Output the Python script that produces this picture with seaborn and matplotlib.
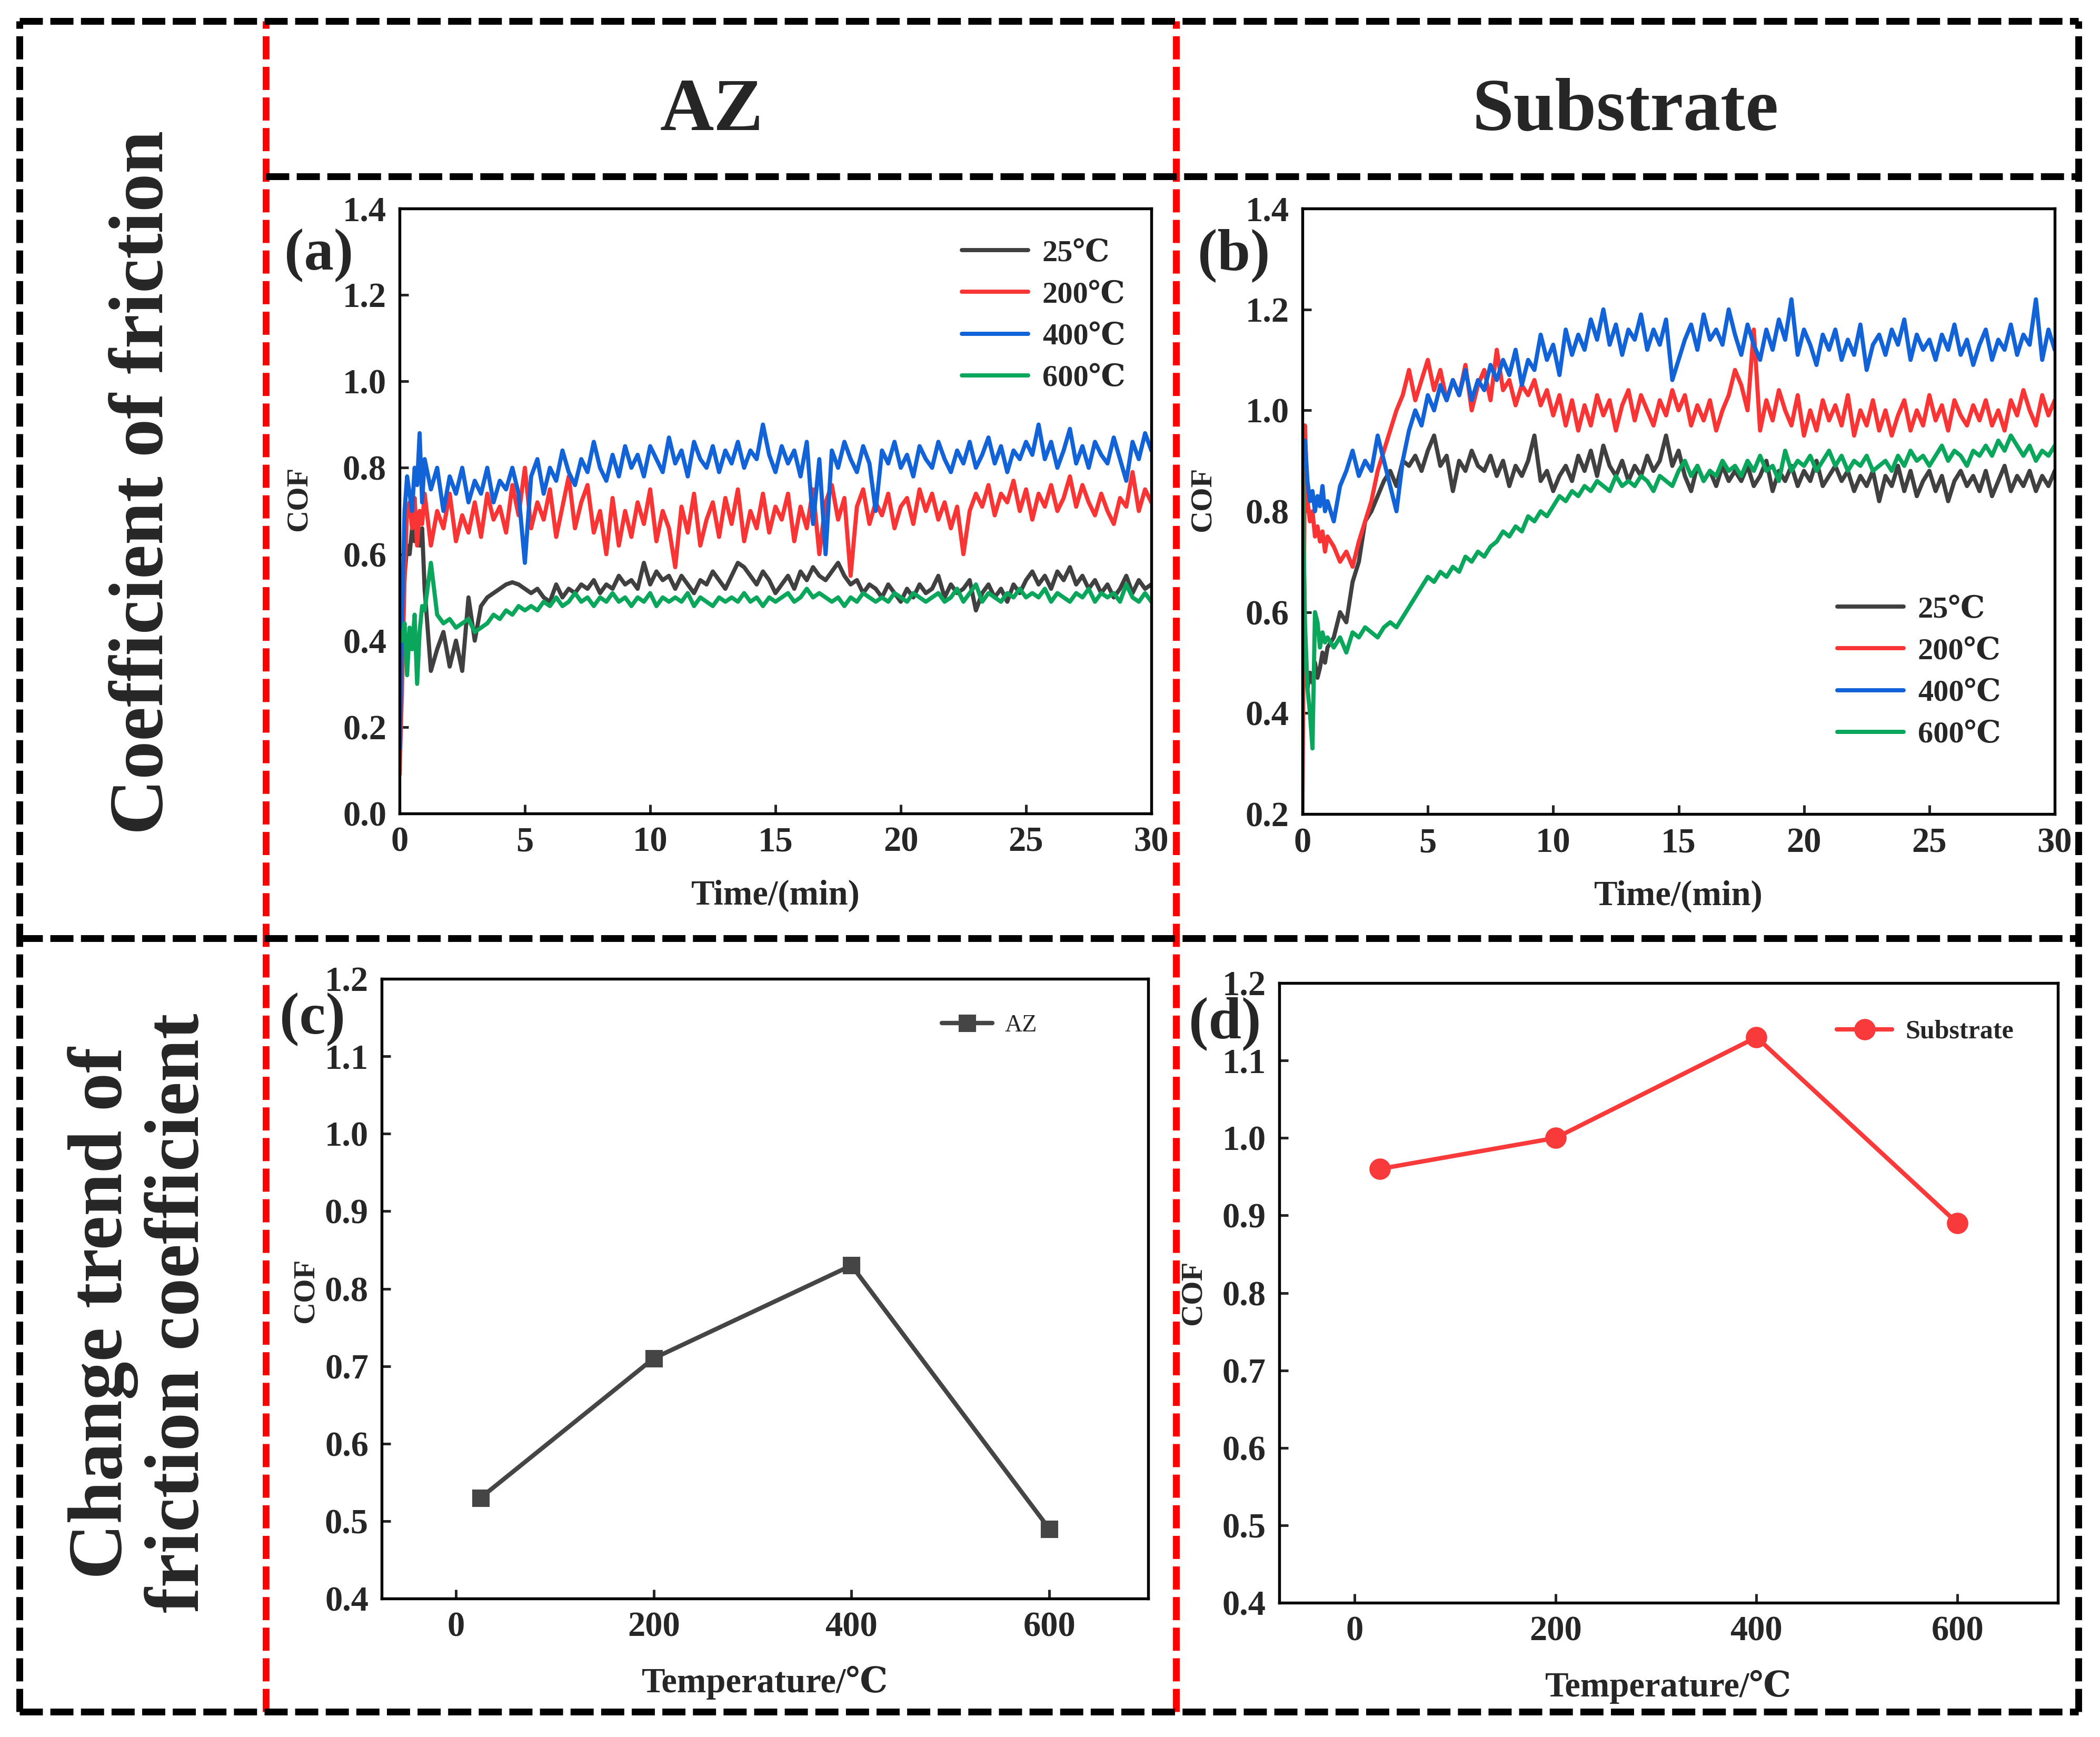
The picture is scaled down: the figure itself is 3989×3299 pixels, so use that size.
import numpy as np
import pandas as pd
import matplotlib
matplotlib.use("Agg")
import matplotlib.pyplot as plt
from matplotlib.lines import Line2D
from matplotlib.ticker import FormatStrFormatter, MultipleLocator
import seaborn as sns

sns.set_style("ticks")
plt.rcParams["font.family"] = ["Liberation Serif", "DejaVu Serif", "Noto Sans CJK SC"]
plt.rcParams["font.weight"] = "bold"
plt.rcParams["axes.labelweight"] = "bold"
plt.rcParams["axes.unicode_minus"] = False

# ---------------- data ----------------
temp_labels = ["25℃", "200℃", "400℃", "600℃"]
line_colors = ["#404040", "#F93434", "#1262D8", "#0AA65C"]

time_early = [0.0, 0.1, 0.2, 0.3, 0.4, 0.5, 0.6, 0.7, 0.8, 0.9, 1.0]
time_main = list(np.round(np.arange(1.25, 30.001, 0.25), 2))
time_min = time_early + time_main

# Panel (a): AZ coating
az_25 = [0.15, 0.40, 0.55, 0.62, 0.60, 0.66, 0.63, 0.68, 0.62, 0.66, 0.52,
         0.33, 0.38, 0.42, 0.34, 0.40, 0.33, 0.50, 0.40,
         0.48, 0.50, 0.51, 0.52, 0.53, 0.535, 0.53, 0.52,
         0.51, 0.52, 0.50, 0.49, 0.53, 0.50, 0.52, 0.51,
         0.53, 0.52, 0.54, 0.51, 0.53, 0.52, 0.55, 0.53,
         0.54, 0.52, 0.58, 0.53, 0.56, 0.54, 0.55, 0.52,
         0.55, 0.53, 0.51, 0.54, 0.53, 0.56, 0.54, 0.52,
         0.55, 0.58, 0.57, 0.55, 0.53, 0.56, 0.54, 0.51,
         0.53, 0.55, 0.52, 0.56, 0.54, 0.57, 0.55, 0.54,
         0.56, 0.58, 0.55, 0.53, 0.54, 0.51, 0.53, 0.52,
         0.50, 0.53, 0.51, 0.49, 0.52, 0.50, 0.53, 0.51,
         0.52, 0.55, 0.50, 0.53, 0.51, 0.52, 0.54, 0.47,
         0.51, 0.53, 0.50, 0.52, 0.49, 0.53, 0.51, 0.54,
         0.56, 0.53, 0.55, 0.52, 0.56, 0.54, 0.57, 0.53,
         0.55, 0.52, 0.54, 0.51, 0.53, 0.50, 0.52, 0.55,
         0.51, 0.54, 0.52, 0.53]
az_200 = [0.09, 0.30, 0.55, 0.70, 0.72, 0.66, 0.73, 0.62, 0.70, 0.67, 0.74,
          0.62, 0.70, 0.66, 0.74, 0.63, 0.69, 0.65, 0.72,
          0.64, 0.74, 0.68, 0.71, 0.65, 0.76, 0.69, 0.80,
          0.66, 0.72, 0.68, 0.75, 0.64, 0.71, 0.78, 0.66,
          0.72, 0.76, 0.65, 0.70, 0.60, 0.73, 0.62, 0.70,
          0.64, 0.72, 0.67, 0.75, 0.63, 0.70, 0.66, 0.57,
          0.71, 0.65, 0.74, 0.62, 0.68, 0.72, 0.64, 0.73,
          0.67, 0.75, 0.63, 0.70, 0.66, 0.74, 0.65, 0.71,
          0.68, 0.74, 0.63, 0.71, 0.66, 0.75, 0.60, 0.72,
          0.76, 0.68, 0.73, 0.55, 0.71, 0.75, 0.67, 0.72,
          0.69, 0.74, 0.66, 0.71, 0.73, 0.67, 0.75, 0.70,
          0.74, 0.68, 0.72, 0.66, 0.71, 0.60, 0.70, 0.74,
          0.71, 0.76, 0.69, 0.74, 0.72, 0.77, 0.70, 0.75,
          0.68, 0.74, 0.71, 0.76, 0.70, 0.73, 0.78, 0.71,
          0.76, 0.72, 0.69, 0.74, 0.70, 0.67, 0.73, 0.71,
          0.79, 0.70, 0.75, 0.72]
az_400 = [0.15, 0.45, 0.70, 0.78, 0.74, 0.70, 0.80, 0.76, 0.88, 0.72, 0.82,
          0.75, 0.80, 0.70, 0.78, 0.74, 0.80, 0.72, 0.77,
          0.74, 0.80, 0.72, 0.77, 0.75, 0.80, 0.74, 0.58,
          0.78, 0.82, 0.74, 0.80, 0.77, 0.84, 0.79, 0.76,
          0.82, 0.79, 0.86, 0.80, 0.77, 0.83, 0.78, 0.85,
          0.80, 0.83, 0.78, 0.85, 0.82, 0.79, 0.87, 0.81,
          0.84, 0.78, 0.86, 0.82, 0.80, 0.85, 0.79, 0.84,
          0.81, 0.86, 0.80, 0.84, 0.82, 0.90, 0.83, 0.79,
          0.85, 0.81, 0.84, 0.78, 0.86, 0.67, 0.82, 0.60,
          0.84, 0.80, 0.86, 0.82, 0.79, 0.85, 0.81, 0.70,
          0.84, 0.81, 0.86, 0.80, 0.83, 0.78, 0.85, 0.82,
          0.80, 0.86, 0.82, 0.79, 0.84, 0.81, 0.86, 0.80,
          0.83, 0.87, 0.81, 0.85, 0.79, 0.84, 0.82, 0.86,
          0.83, 0.90, 0.82, 0.86, 0.80, 0.84, 0.89, 0.81,
          0.85, 0.80, 0.86, 0.83, 0.81, 0.87, 0.82, 0.77,
          0.86, 0.82, 0.88, 0.84]
az_600 = [0.42, 0.40, 0.44, 0.32, 0.43, 0.38, 0.46, 0.30, 0.42, 0.48, 0.47,
          0.58, 0.46, 0.44, 0.45, 0.43, 0.44, 0.45, 0.42,
          0.43, 0.44, 0.46, 0.45, 0.47, 0.46, 0.48, 0.47,
          0.48, 0.47, 0.49, 0.48, 0.50, 0.48, 0.49, 0.51,
          0.49, 0.50, 0.48, 0.50, 0.49, 0.51, 0.49, 0.50,
          0.48, 0.50, 0.49, 0.51, 0.48, 0.50, 0.49, 0.50,
          0.49, 0.51, 0.48, 0.50, 0.49, 0.48, 0.50, 0.49,
          0.50, 0.49, 0.51, 0.49, 0.50, 0.48, 0.50, 0.49,
          0.50, 0.51, 0.49, 0.50, 0.52, 0.50, 0.51, 0.50,
          0.49, 0.50, 0.48, 0.50, 0.49, 0.51, 0.50, 0.49,
          0.50, 0.49, 0.51, 0.50, 0.49, 0.51, 0.50, 0.49,
          0.50, 0.51, 0.49, 0.50, 0.52, 0.49, 0.51, 0.53,
          0.49, 0.51, 0.50, 0.49, 0.51, 0.50, 0.52, 0.50,
          0.51, 0.50, 0.52, 0.49, 0.51, 0.50, 0.49, 0.51,
          0.50, 0.52, 0.49, 0.51, 0.50, 0.51, 0.49, 0.53,
          0.50, 0.49, 0.51, 0.49]

# Panel (b): Substrate
sub_25 = [0.90, 0.55, 0.45, 0.48, 0.46, 0.50, 0.47, 0.49, 0.52, 0.50, 0.53,
          0.55, 0.60, 0.58, 0.66, 0.70, 0.78, 0.80, 0.83,
          0.86, 0.88, 0.85, 0.90, 0.89, 0.91, 0.88, 0.92,
          0.95, 0.89, 0.91, 0.84, 0.90, 0.88, 0.92, 0.89,
          0.88, 0.91, 0.87, 0.90, 0.85, 0.89, 0.87, 0.90,
          0.95, 0.86, 0.88, 0.84, 0.87, 0.89, 0.86, 0.91,
          0.88, 0.92, 0.87, 0.93, 0.89, 0.87, 0.90, 0.86,
          0.89, 0.87, 0.91, 0.88, 0.90, 0.95, 0.89, 0.92,
          0.87, 0.84, 0.89, 0.86, 0.88, 0.85, 0.89, 0.86,
          0.88, 0.86, 0.89, 0.85, 0.87, 0.90, 0.84, 0.88,
          0.86, 0.89, 0.85, 0.88, 0.86, 0.90, 0.85, 0.87,
          0.89, 0.86, 0.88, 0.84, 0.87, 0.85, 0.88, 0.82,
          0.87, 0.85, 0.89, 0.84, 0.88, 0.83, 0.86, 0.88,
          0.84, 0.87, 0.82, 0.86, 0.88, 0.85, 0.87, 0.84,
          0.88, 0.83, 0.86, 0.89, 0.84, 0.87, 0.85, 0.88,
          0.84, 0.87, 0.85, 0.88]
sub_200 = [0.20, 0.97, 0.82, 0.78, 0.80, 0.75, 0.77, 0.74, 0.76, 0.72, 0.75,
           0.73, 0.70, 0.72, 0.69, 0.74, 0.78, 0.82, 0.88,
           0.92, 0.96, 1.00, 1.03, 1.08, 1.02, 1.06, 1.10,
           1.04, 1.08, 1.02, 1.06, 1.03, 1.09, 1.00, 1.05,
           1.08, 1.02, 1.12, 1.04, 1.06, 1.01, 1.05, 1.03,
           1.06, 1.01, 1.04, 0.99, 1.03, 0.97, 1.02, 0.96,
           1.01, 0.97, 1.03, 0.99, 1.02, 0.96, 1.01, 1.04,
           0.98, 1.03, 1.00, 0.97, 1.02, 0.99, 1.04, 1.00,
           1.03, 0.97, 1.01, 0.98, 1.02, 0.96, 1.00, 1.03,
           1.08, 1.05, 1.00, 1.16, 0.96, 1.02, 0.98, 1.04,
           1.00, 0.97, 1.03, 0.95, 1.00, 0.96, 1.02, 0.98,
           1.01, 0.97, 1.03, 0.95, 1.00, 0.97, 1.02, 0.96,
           1.00, 0.95, 0.99, 1.02, 0.96, 1.00, 0.97, 1.03,
           0.98, 1.01, 0.96, 1.02, 0.99, 0.97, 1.01, 0.98,
           1.02, 0.97, 1.00, 0.96, 1.02, 0.99, 1.04, 1.00,
           0.97, 1.03, 0.99, 1.02]
sub_400 = [0.90, 0.94, 0.86, 0.82, 0.84, 0.80, 0.83, 0.81, 0.85, 0.80, 0.82,
           0.78, 0.85, 0.88, 0.92, 0.87, 0.90, 0.88, 0.95,
           0.90, 0.85, 0.80, 0.90, 0.96, 1.00, 0.97, 1.03,
           1.00, 1.05, 1.02, 1.06, 1.03, 1.08, 1.02, 1.06,
           1.04, 1.09, 1.06, 1.10, 1.07, 1.12, 1.05, 1.10,
           1.08, 1.15, 1.10, 1.13, 1.07, 1.16, 1.11, 1.15,
           1.12, 1.18, 1.14, 1.20, 1.13, 1.17, 1.11, 1.16,
           1.14, 1.19, 1.12, 1.16, 1.13, 1.18, 1.06, 1.10,
           1.14, 1.17, 1.12, 1.19, 1.14, 1.16, 1.13, 1.20,
           1.15, 1.11, 1.17, 1.13, 1.10, 1.16, 1.12, 1.18,
           1.14, 1.22, 1.11, 1.16, 1.13, 1.09, 1.15, 1.12,
           1.16, 1.10, 1.14, 1.11, 1.17, 1.08, 1.13, 1.15,
           1.11, 1.16, 1.13, 1.18, 1.10, 1.15, 1.12, 1.14,
           1.10, 1.15, 1.12, 1.17, 1.11, 1.14, 1.09, 1.13,
           1.16, 1.10, 1.14, 1.12, 1.17, 1.11, 1.15, 1.13,
           1.22, 1.10, 1.16, 1.12]
sub_600 = [0.90, 0.58, 0.45, 0.40, 0.33, 0.60, 0.58, 0.53, 0.56, 0.54, 0.55,
           0.53, 0.55, 0.52, 0.56, 0.55, 0.57, 0.56, 0.55,
           0.57, 0.58, 0.57, 0.59, 0.61, 0.63, 0.65, 0.67,
           0.66, 0.68, 0.67, 0.69, 0.68, 0.71, 0.70, 0.72,
           0.71, 0.73, 0.74, 0.76, 0.75, 0.77, 0.76, 0.79,
           0.78, 0.80, 0.79, 0.81, 0.83, 0.82, 0.84, 0.83,
           0.85, 0.84, 0.86, 0.85, 0.84, 0.87, 0.85, 0.86,
           0.85, 0.87, 0.86, 0.84, 0.87, 0.86, 0.85, 0.88,
           0.90, 0.87, 0.89, 0.86, 0.88, 0.87, 0.90, 0.88,
           0.89, 0.87, 0.90, 0.88, 0.91, 0.88, 0.89, 0.86,
           0.92, 0.88, 0.90, 0.89, 0.91, 0.88, 0.90, 0.92,
           0.89, 0.91, 0.88, 0.90, 0.89, 0.91, 0.88, 0.89,
           0.90, 0.88, 0.91, 0.89, 0.92, 0.90, 0.91, 0.89,
           0.91, 0.93, 0.90, 0.92, 0.91, 0.89, 0.92, 0.91,
           0.93, 0.91, 0.94, 0.92, 0.95, 0.93, 0.91, 0.93,
           0.90, 0.92, 0.91, 0.93]

# Panels (c), (d): mean COF vs temperature
temperature_c = [25, 200, 400, 600]
az_mean_cof = [0.53, 0.71, 0.83, 0.49]
sub_mean_cof = [0.96, 1.00, 1.13, 0.89]


def long_df(series_list):
    frames = []
    for lab, vals in zip(temp_labels, series_list):
        frames.append(pd.DataFrame({"time": time_min, "cof": vals, "temp": lab}))
    return pd.concat(frames, ignore_index=True)


df_a = long_df([az_25, az_200, az_400, az_600])
df_b = long_df([sub_25, sub_200, sub_400, sub_600])

# ---------------- figure ----------------
W, H = 3989, 3299
fig = plt.figure(figsize=(W / 300, H / 300), dpi=300)
fig.patch.set_facecolor("white")


def px_axes(l, r, t, b):
    return fig.add_axes([l / W, 1 - b / H, (r - l) / W, (b - t) / H])


ax_a = px_axes(759, 2187, 396, 1545)
ax_b = px_axes(2474, 3903, 396, 1546)
ax_c = px_axes(725, 2181, 1859, 3036)
ax_d = px_axes(2430, 3909, 1867, 3044)


def style_axes(ax):
    for s in ax.spines.values():
        s.set_visible(True)
        s.set_linewidth(1.3)
        s.set_color("black")
    ax.tick_params(direction="in", length=4, width=1.2, labelsize=16, pad=6,
                   top=False, right=False)
    for lab in ax.get_xticklabels() + ax.get_yticklabels():
        lab.set_fontweight("bold")
    ax.grid(False)


pal = dict(zip(temp_labels, line_colors))
for ax, df, ylim, ymaj, lx, ly, lleg in [
    (ax_a, df_a, (0.0, 1.4), 0.2, -0.116, 0.52, (1827, 600)),
    (ax_b, df_b, (0.2, 1.4), 0.2, -0.114, 0.52, (3490, 1277)),
]:
    sns.lineplot(data=df, x="time", y="cof", hue="temp", hue_order=temp_labels,
                 palette=pal, estimator=None, linewidth=1.9, ax=ax)
    ax.set_xlim(0, 30)
    ax.set_ylim(*ylim)
    ax.xaxis.set_major_locator(MultipleLocator(5))
    ax.yaxis.set_major_locator(MultipleLocator(ymaj))
    ax.yaxis.set_major_formatter(FormatStrFormatter("%.1f"))
    ax.set_xlabel("Time/(min)", fontsize=16, fontweight="bold")
    ax.set_ylabel("COF", fontsize=14, fontweight="bold")
    ax.xaxis.set_label_coords(0.5, -0.109)
    ax.yaxis.set_label_coords(lx, ly)
    style_axes(ax)
    h, l = ax.get_legend_handles_labels()
    for hh in h:
        hh.set_linewidth(1.9)
    ax.legend(h, l, loc="center left",
              bbox_to_anchor=(lleg[0] / W, 1 - lleg[1] / H),
              bbox_transform=fig.transFigure, frameon=False, borderpad=0,
              borderaxespad=0, handlelength=2.16, handletextpad=0.46,
              labelspacing=0.45, prop={"size": 14, "weight": "bold"})

# (c)
sns.lineplot(x=temperature_c, y=az_mean_cof, marker="s", color="#454545",
             linewidth=2.0, markersize=7, markeredgecolor="#454545",
             label="AZ", ax=ax_c)
# (d)
sns.lineplot(x=temperature_c, y=sub_mean_cof, marker="o", color="#F93A3A",
             linewidth=2.0, markersize=9, markeredgecolor="#F93A3A",
             label="Substrate", ax=ax_d)

for ax, lx, ly, lleg, lprop in [
    (ax_c, -0.081, 0.497, (1789, 1948), {"size": 11, "weight": "normal"}),
    (ax_d, -0.093, 0.50, (3489, 1960), {"size": 12, "weight": "bold"}),
]:
    ax.set_xlim(-75, 700)
    ax.set_ylim(0.4, 1.2)
    ax.set_xticks([0, 200, 400, 600])
    ax.yaxis.set_major_locator(MultipleLocator(0.1))
    ax.yaxis.set_major_formatter(FormatStrFormatter("%.1f"))
    ax.set_xlabel("Temperature/℃", fontsize=16, fontweight="bold")
    ax.set_ylabel("COF", fontsize=14, fontweight="bold")
    ax.xaxis.set_label_coords(0.5, -0.109)
    ax.yaxis.set_label_coords(lx, ly)
    style_axes(ax)
    h, l = ax.get_legend_handles_labels()
    ax.legend(h, l, loc="center left",
              bbox_to_anchor=(lleg[0] / W, 1 - lleg[1] / H),
              bbox_transform=fig.transFigure, frameon=False, borderpad=0,
              borderaxespad=0, handlelength=2.1, handletextpad=0.5,
              prop=lprop)

# panel letters
for txt, xp, yp in [("(a)", 540, 511), ("(b)", 2275, 512),
                    ("(c)", 531, 1962), ("(d)", 2258, 1971)]:
    fig.text(xp / W, 1 - yp / H, txt, fontsize=27, fontweight="bold",
             ha="left", va="baseline", zorder=10)

# column headers
fig.text(0.339, 1 - 247 / H, "AZ", fontsize=34, fontweight="bold",
         ha="center", va="baseline")
fig.text(0.774, 1 - 247 / H, "Substrate", fontsize=34, fontweight="bold",
         ha="center", va="baseline")

# row headers
fig.text(274 / W, 1 - 916 / H, "Coefficient of friction", fontsize=35,
         fontweight="bold", rotation=90, ha="center", va="center")
fig.text(268 / W, 1 - 2494 / H, "Change trend of\nfriction coefficient",
         fontsize=35, fontweight="bold", rotation=90, ha="center",
         va="center", linespacing=1.12, multialignment="center")

# dashed frame
LW = 3.1
DASH = (0, (3.4, 1.1))
xl, xr = 37 / W, 3948 / W
yt, yb = 1 - 40 / H, 1 - 3251 / H
xred1, xred2 = 505 / W, 2234 / W
y_hdr, y_mid = 1 - 335 / H, 1 - 1782 / H


def fline(xs, ys, color, z):
    fig.add_artist(Line2D(xs, ys, transform=fig.transFigure, color=color,
                          linewidth=LW, linestyle=DASH, zorder=z))


fline([xred1, xred1], [yb, yt], "#FF0000", 5)
fline([xred2, xred2], [yb, yt], "#FF0000", 5)
fline([xl, xr], [yt, yt], "black", 6)
fline([xl, xr], [yb, yb], "black", 6)
fline([xl, xl], [yb, yt], "black", 6)
fline([xr, xr], [yb, yt], "black", 6)
fline([xred1, xr], [y_hdr, y_hdr], "black", 6)
fline([xl, xr], [y_mid, y_mid], "black", 6)

fig.savefig("out.png", dpi=300, facecolor="white")
